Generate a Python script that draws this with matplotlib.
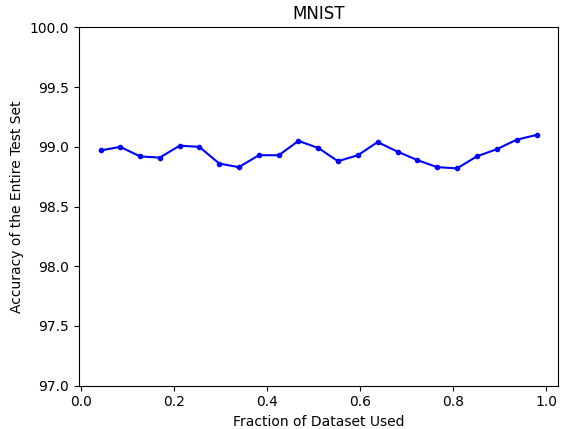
import matplotlib
matplotlib.use("Agg")
import matplotlib.pyplot as plt

# fraction of training data used
fractions = [0.043, 0.085, 0.128, 0.170, 0.213, 0.255, 0.298, 0.340, 0.383, 0.426,
             0.468, 0.511, 0.553, 0.596, 0.638, 0.681, 0.723, 0.766, 0.809, 0.851,
             0.894, 0.937, 0.980]
# accuracy on the full test set (%)
accuracy = [98.97, 99.00, 98.92, 98.91, 99.01, 99.00, 98.86, 98.83, 98.93, 98.93,
            99.05, 98.99, 98.88, 98.93, 99.04, 98.96, 98.89, 98.83, 98.82, 98.92,
            98.98, 99.06, 99.10]

fig = plt.figure(figsize=(5.63, 4.29), dpi=100)
ax = fig.add_subplot(111)
fig.subplots_adjust(left=0.140, right=0.992, top=0.936, bottom=0.101)

ax.plot(fractions, accuracy, color='b', marker='.', linewidth=1.5)
ax.set_ylim(97.0, 100.0)

ax.set_title('MNIST')
ax.set_xlabel('Fraction of Dataset Used')
ax.set_ylabel('Accuracy of the Entire Test Set')

fig.savefig('out.png', dpi=100)
